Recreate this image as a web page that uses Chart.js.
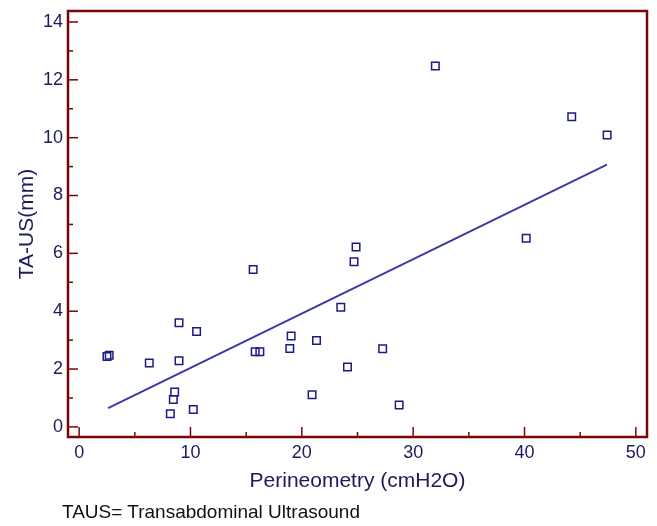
<!DOCTYPE html>
<html>
<head>
<meta charset="utf-8">
<script src="https://cdn.jsdelivr.net/npm/chart.js@4/dist/chart.umd.min.js"></script>
<style>
  body { margin: 0; background: #fff; }
  #wrap { position: relative; width: 657px; height: 526px; }
  #note { position: absolute; left: 62px; top: 501px; font: 19px "Liberation Sans", Arial, sans-serif; color: #111; white-space: nowrap; }
</style>
</head>
<body>
<div id="wrap">
  <canvas id="myChart" width="657" height="526"></canvas>
  <div id="note">TAUS= Transabdominal Ultrasound</div>
</div>
<script>
// perineometry (cmH2O) vs TA-US (mm)
const perineometry = [2.5, 2.7, 6.3, 8.97, 8.97, 8.58, 8.46, 8.19, 10.25, 10.55, 15.63, 15.81, 16.23,
  19.04, 18.92, 21.32, 20.92, 23.5, 24.1, 24.69, 24.87, 27.26, 28.74, 31.99, 40.15, 44.24, 47.42];
const taus = [2.43, 2.48, 2.21, 3.6, 2.29, 1.21, 0.95, 0.45, 0.6, 3.3, 5.44, 2.6, 2.6,
  3.14, 2.71, 2.99, 1.11, 4.14, 2.07, 5.71, 6.22, 2.7, 0.76, 12.48, 6.52, 10.72, 10.09];

// regression line end points
const fitX = [2.6, 47.4];
const fitY = [0.65, 9.07];

const navy = '#1b1b5e';
const maroon = '#760606';
const font = '"Liberation Sans", Arial, sans-serif';

// box round the plot + inward major/minor ticks
const frameTicks = {
  id: 'frameTicks',
  afterDraw(chart) {
    const {ctx, chartArea: a} = chart;
    const x = chart.scales.x, y = chart.scales.y;
    ctx.save();
    ctx.strokeStyle = maroon;
    ctx.lineWidth = 1.5;
    x.ticks.forEach(t => {
      const px = x.getPixelForValue(t.value);
      const len = t.value % 10 === 0 ? 10 : 5;
      ctx.beginPath(); ctx.moveTo(px, a.bottom); ctx.lineTo(px, a.bottom - len); ctx.stroke();
    });
    y.ticks.forEach(t => {
      const py = y.getPixelForValue(t.value);
      const len = t.value % 2 === 0 ? 10 : 5;
      ctx.beginPath(); ctx.moveTo(a.left, py); ctx.lineTo(a.left + len, py); ctx.stroke();
    });
    ctx.lineWidth = 2.5;
    ctx.strokeRect(a.left, a.top, a.right - a.left, a.bottom - a.top);
    ctx.restore();
  }
};

new Chart(document.getElementById('myChart'), {
  type: 'scatter',
  data: {
    datasets: [
      {
        data: perineometry.map((v, i) => ({x: v, y: taus[i]})),
        pointStyle: 'rect',
        pointRadius: 5.3,
        borderColor: '#1a1a8a',
        backgroundColor: 'rgba(255,255,255,0)',
        borderWidth: 1.5
      },
      {
        type: 'line',
        data: fitX.map((v, i) => ({x: v, y: fitY[i]})),
        borderColor: '#3a3aa6',
        borderWidth: 2,
        pointRadius: 0,
        fill: false
      }
    ]
  },
  options: {
    responsive: false,
    animation: false,
    layout: {padding: {top: 11, right: 10, bottom: 31, left: 0}},
    plugins: {legend: {display: false}, tooltip: {enabled: false}},
    scales: {
      x: {
        type: 'linear', min: -1, max: 51,
        grid: {display: false, drawTicks: false},
        border: {display: false},
        ticks: {
          stepSize: 5, includeBounds: false, autoSkip: false, maxRotation: 0,
          padding: 5, color: navy, font: {family: font, size: 18},
          callback: v => v % 10 === 0 ? v : ''
        },
        title: {display: true, text: 'Perineometry (cmH2O)', color: navy,
          font: {family: font, size: 21}, padding: {top: 0, bottom: 1}},
        afterFit(scale) { scale.height = 58; scale.paddingLeft = 0; scale.paddingRight = 0; }
      },
      y: {
        type: 'linear', min: -0.35, max: 14.38,
        grid: {display: false, drawTicks: false},
        border: {display: false},
        ticks: {
          stepSize: 1, includeBounds: false, autoSkip: false,
          padding: 5, color: navy, font: {family: font, size: 18},
          callback: v => v % 2 === 0 ? v : ''
        },
        title: {display: true, text: 'TA-US(mm)', color: navy,
          font: {family: font, size: 21}, padding: {top: 15, bottom: 0}},
        afterFit(scale) { scale.width = 68; scale.paddingTop = 0; scale.paddingBottom = 0; }
      }
    }
  },
  plugins: [frameTicks]
});
</script>
</body>
</html>
